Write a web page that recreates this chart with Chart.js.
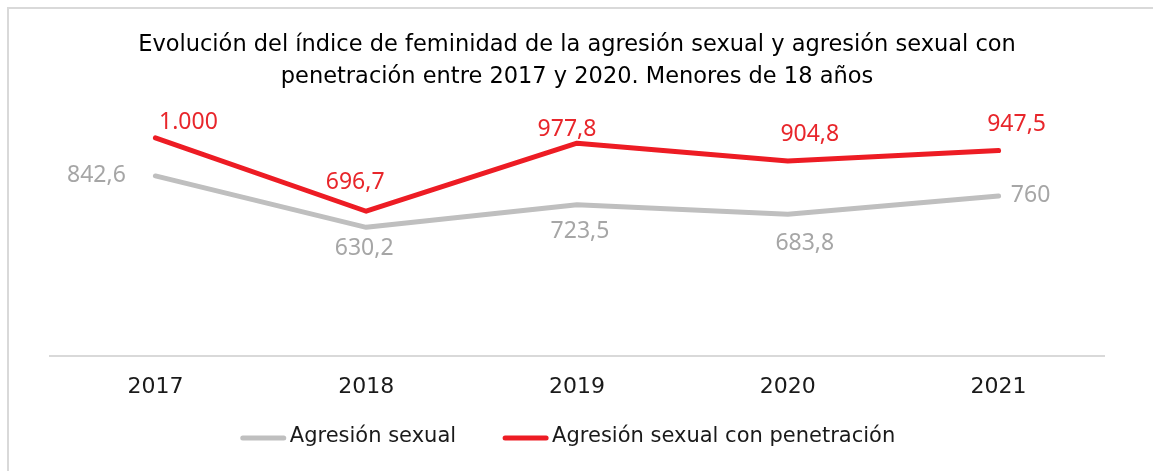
<!DOCTYPE html>
<html>
<head>
<meta charset="utf-8">
<script src="https://cdn.jsdelivr.net/npm/chart.js@4/dist/chart.umd.min.js"></script>
<style>
  html, body { margin: 0; padding: 0; background: #fff; }
  #wrap { width: 1153px; height: 471px; position: relative; }
</style>
</head>
<body>
<div id="wrap"><canvas id="chart"></canvas></div>
<script>
const years = ['2017', '2018', '2019', '2020', '2021'];
const agresion = [842.6, 630.2, 723.5, 683.8, 760];
const penetracion = [1000, 696.7, 977.8, 904.8, 947.5];
const seriesNames = ['Agresión sexual', 'Agresión sexual con penetración'];
const titleLines = [
    'Evolución del índice de feminidad de la agresión sexual y agresión sexual con',
    'penetración entre 2017 y 2020. Menores de 18 años'
];

// where each value label sits relative to its point (hand placed in the original)
const labelOffsets = [
    [[-59, 0], [-2, 21], [3, 27], [17, 29], [32, 0]],
    [[33, -15], [-11, -29], [-10, -14], [22, -26], [18, -26]]
];
const labelColors = ['#a6a6a6', '#e8262b'];

function fmt(v) {
    if (v === 1000) return '1.000';
    return String(v).replace('.', ',');
}

const frame = {
    id: 'frame',
    beforeDraw(chart) {
        const ctx = chart.ctx;
        ctx.save();
        ctx.strokeStyle = '#d9d9d9';
        ctx.lineWidth = 2;
        ctx.beginPath();
        ctx.moveTo(8, 471);
        ctx.lineTo(8, 8);
        ctx.lineTo(1153, 8);
        ctx.stroke();
        ctx.restore();
    }
};

const valueLabels = {
    id: 'valueLabels',
    afterDatasetsDraw(chart) {
        const ctx = chart.ctx;
        ctx.save();
        ctx.font = '23px "Noto Sans"';
        ctx.textAlign = 'center';
        ctx.textBaseline = 'middle';
        chart.data.datasets.forEach((ds, d) => {
            const meta = chart.getDatasetMeta(d);
            ctx.fillStyle = labelColors[d];
            meta.data.forEach((pt, i) => {
                const off = labelOffsets[d][i];
                ctx.fillText(fmt(ds.data[i]), pt.x + off[0], pt.y + off[1]);
            });
        });
        ctx.restore();
    }
};

// legend drawn by hand so the swatch/text gaps match the original
const lineLegend = {
    id: 'lineLegend',
    afterDraw(chart) {
        const ctx = chart.ctx;
        const sw = 45, gapText = 4, gapItem = 47, y = 437;
        ctx.save();
        ctx.font = '21px "DejaVu Sans"';
        ctx.textBaseline = 'middle';
        const items = chart.data.datasets.map(ds => ({
            text: ds.label, color: ds.borderColor, w: ctx.measureText(ds.label).width
        }));
        let total = items.reduce((a, it) => a + sw + gapText + it.w, 0) + gapItem * (items.length - 1);
        let x = 568 - total / 2;
        items.forEach(it => {
            ctx.strokeStyle = it.color;
            ctx.lineWidth = 5;
            ctx.lineCap = 'round';
            ctx.beginPath();
            ctx.moveTo(x + 2, y + 1);
            ctx.lineTo(x + sw - 2, y + 1);
            ctx.stroke();
            ctx.fillStyle = '#1a1a1a';
            ctx.fillText(it.text, x + sw + gapText, y);
            x += sw + gapText + it.w + gapItem;
        });
        ctx.restore();
    }
};

new Chart(document.getElementById('chart'), {
    type: 'line',
    data: {
        labels: years,
        datasets: [
            {
                label: seriesNames[0],
                data: agresion,
                borderColor: '#bfbfbf',
                backgroundColor: '#bfbfbf',
                borderWidth: 5,
                borderCapStyle: 'round',
                borderJoinStyle: 'round',
                pointRadius: 0,
                tension: 0
            },
            {
                label: seriesNames[1],
                data: penetracion,
                borderColor: '#ed1c24',
                backgroundColor: '#ed1c24',
                borderWidth: 5,
                borderCapStyle: 'round',
                borderJoinStyle: 'round',
                pointRadius: 0,
                tension: 0
            }
        ]
    },
    options: {
        responsive: true,
        maintainAspectRatio: false,
        animation: false,
        layout: { padding: { left: 50, right: 49, top: 0, bottom: 53 } },
        scales: {
            x: {
                offset: true,
                grid: { display: false, drawTicks: false },
                border: { display: true, color: '#d9d9d9', width: 2 },
                ticks: {
                    color: '#1a1a1a',
                    font: { family: 'DejaVu Sans', size: 22 },
                    padding: 18
                }
            },
            y: {
                display: false,
                min: 100,
                max: 1144.5
            }
        },
        plugins: {
            title: {
                display: true,
                text: titleLines,
                color: '#000',
                font: { family: 'DejaVu Sans', size: 22.5, weight: 'normal', lineHeight: 1.42 },
                padding: { top: 29, bottom: 10 }
            },
            legend: { display: false },
            tooltip: { enabled: false }
        }
    },
    plugins: [frame, valueLabels, lineLegend]
});
</script>
</body>
</html>
